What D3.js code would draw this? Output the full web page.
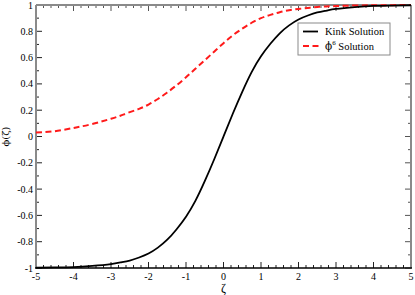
<!DOCTYPE html>
<html>
<head>
<meta charset="utf-8">
<script src="https://cdn.jsdelivr.net/npm/d3@7"></script>
<style>
  body { margin: 0; background: #fff; }
  text { font-family: "Liberation Serif", "DejaVu Serif", serif; fill: #000; }
</style>
</head>
<body>
<div id="chart"></div>
<script>
var width = 415;
var height = 295;
var margin = {left: 36, right: 4, top: 5, bottom: 27};

// values
var zeta = [-5, -4.5, -4, -3.5, -3, -2.75, -2.5, -2.25, -2, -1.75, -1.5, -1.25, -1, -0.75, -0.5, -0.25, 0,
            0.25, 0.5, 0.75, 1, 1.25, 1.5, 1.75, 2, 2.25, 2.5, 2.75, 3, 3.5, 4, 4.5, 5];
var kink = [-0.998, -0.996, -0.993, -0.984, -0.97, -0.958, -0.943, -0.92, -0.89, -0.845, -0.785, -0.705, -0.61, -0.49, -0.34, -0.175, 0,
            0.175, 0.34, 0.49, 0.61, 0.705, 0.785, 0.845, 0.89, 0.92, 0.943, 0.958, 0.97, 0.984, 0.993, 0.996, 0.998];
var phi6 = [0.03, 0.04, 0.065, 0.095, 0.135, 0.158, 0.185, 0.21, 0.243, 0.285, 0.335, 0.39, 0.45, 0.515, 0.58, 0.645, 0.71,
            0.77, 0.82, 0.865, 0.9, 0.925, 0.945, 0.96, 0.97, 0.978, 0.985, 0.989, 0.992, 0.996, 0.998, 0.999, 1.0];
var xTicks = [-5, -4, -3, -2, -1, 0, 1, 2, 3, 4, 5];
var yTicks = [-1, -0.8, -0.6, -0.4, -0.2, 0, 0.2, 0.4, 0.6, 0.8, 1];
var seriesNames = ["Kink Solution", "Solution"];

var svg = d3.select("#chart")
  .append("svg")
  .attr("width", width)
  .attr("height", height);

var x = d3.scaleLinear().domain([-5, 5]).range([margin.left, width - margin.right]);
var y = d3.scaleLinear().domain([-1, 1]).range([height - margin.bottom, margin.top]);

var x0 = x(-5), x1 = x(5), y0 = y(-1), y1 = y(1);

//minor ticks
var xMinor = d3.range(-5, 5.001, 0.2);
var yMinor = d3.range(-1, 1.001, 0.1);

var ticks = svg.append("g").attr("stroke", "#222").attr("stroke-width", 1);

xMinor.forEach(function(v) {
  var isMajor = Math.abs(v - Math.round(v)) < 1e-6;
  var len = isMajor ? 6 : 3;
  ticks.append("line").attr("x1", x(v)).attr("x2", x(v)).attr("y1", y0).attr("y2", y0 - len);
  ticks.append("line").attr("x1", x(v)).attr("x2", x(v)).attr("y1", y1).attr("y2", y1 + len)
    .attr("stroke", "#555");
});
yMinor.forEach(function(v) {
  var isMajor = Math.abs(v * 5 - Math.round(v * 5)) < 1e-6;
  var len = isMajor ? 6 : 3;
  ticks.append("line").attr("y1", y(v)).attr("y2", y(v)).attr("x1", x0).attr("x2", x0 + len);
  ticks.append("line").attr("y1", y(v)).attr("y2", y(v)).attr("x1", x1).attr("x2", x1 - len)
    .attr("stroke", "#555");
});

// frame
svg.append("line").attr("x1", x0).attr("x2", x1).attr("y1", y1).attr("y2", y1)
  .attr("stroke", "#8a8a8a").attr("stroke-width", 2);
svg.append("line").attr("x1", x0).attr("x2", x0).attr("y1", y0).attr("y2", y1)
  .attr("stroke", "#8a8a8a").attr("stroke-width", 2);
svg.append("line").attr("x1", x1).attr("x2", x1).attr("y1", y0).attr("y2", y1)
  .attr("stroke", "#8a8a8a").attr("stroke-width", 2);
svg.append("line").attr("x1", x0 - 1).attr("x2", x1 + 1).attr("y1", y0).attr("y2", y0)
  .attr("stroke", "#000").attr("stroke-width", 1.6);

// tick labels
svg.selectAll(".xlab")
  .data(xTicks)
  .enter().append("text")
  .attr("class", "xlab")
  .attr("x", function(d) { return x(d); })
  .attr("y", y0 + 12)
  .attr("text-anchor", "middle")
  .attr("font-size", "10px")
  .text(function(d) { return d; });

svg.selectAll(".ylab")
  .data(yTicks)
  .enter().append("text")
  .attr("class", "ylab")
  .attr("x", x0 - 3)
  .attr("y", function(d) { return y(d) + 3.5; })
  .attr("text-anchor", "end")
  .attr("font-size", "10px")
  .text(function(d) { return d; });

// axis titles
svg.append("text")
  .attr("x", x(0))
  .attr("y", height - 3)
  .attr("text-anchor", "middle")
  .attr("font-size", "12px")
  .text("ζ");

svg.append("text")
  .attr("transform", "translate(9," + y(0) + ") rotate(-90)")
  .attr("text-anchor", "middle")
  .attr("font-size", "10px")
  .style("font-family", "'DejaVu Serif', serif")
  .text("ϕ(ζ)");

// curves
var line = d3.line()
  .x(function(d) { return x(d[0]); })
  .y(function(d) { return y(d[1]); })
  .curve(d3.curveNatural);

svg.append("path")
  .datum(d3.zip(zeta, phi6))
  .attr("d", line)
  .attr("fill", "none")
  .attr("stroke", "#ff1a1a")
  .attr("stroke-width", 2)
  .attr("stroke-dasharray", "6,3.5");

svg.append("path")
  .datum(d3.zip(zeta, kink))
  .attr("d", line)
  .attr("fill", "none")
  .attr("stroke", "#000")
  .attr("stroke-width", 1.8);

// legend
var lg = svg.append("g").attr("transform", "translate(298,23)");
lg.append("rect")
  .attr("width", 92).attr("height", 32)
  .attr("fill", "#fff")
  .attr("stroke", "#8a8a8a").attr("stroke-width", 1);

lg.append("line").attr("x1", 5).attr("x2", 20).attr("y1", 8.5).attr("y2", 8.5)
  .attr("stroke", "#000").attr("stroke-width", 1.8);
lg.append("line").attr("x1", 5).attr("x2", 22).attr("y1", 23).attr("y2", 23)
  .attr("stroke", "#ff1a1a").attr("stroke-width", 2).attr("stroke-dasharray", "6,3.5");

lg.append("text").attr("x", 27).attr("y", 12).attr("font-size", "10.5px").text(seriesNames[0]);
var t2 = lg.append("text").attr("x", 27).attr("y", 26.5).attr("font-size", "10.5px");
t2.append("tspan").style("font-family", "'DejaVu Serif', serif").text("ϕ");
t2.append("tspan").attr("dy", -5).attr("font-size", "7px").text("6");
t2.append("tspan").attr("dy", 5).text(" " + seriesNames[1]);
</script>
</body>
</html>
